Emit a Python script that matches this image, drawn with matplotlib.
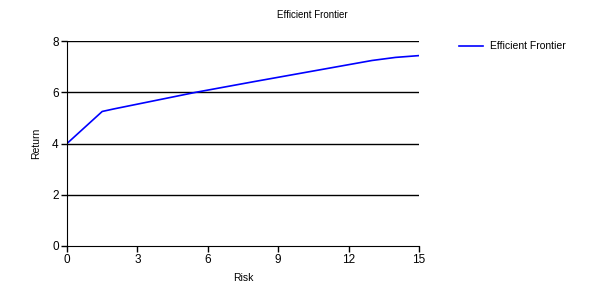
import matplotlib
matplotlib.use("Agg")
import matplotlib.pyplot as plt

plt.rcParams['font.family'] = ['Liberation Sans', 'DejaVu Sans']

# efficient frontier points
risk = [0, 1.5, 2.0, 5.5, 8.0, 13.0, 13.5, 14.0, 15.0]
ret = [4.0, 5.25, 5.35, 6.0, 6.42, 7.24, 7.30, 7.36, 7.43]
x_ticks = [0, 3, 6, 9, 12, 15]
y_ticks = [0, 2, 4, 6, 8]

fig = plt.figure(figsize=(6, 3), dpi=100)
ax = fig.add_axes([67/600, 54/300, 352/600, 205/300])

line, = ax.plot(risk, ret, color='#0000ff', lw=1.2, label='Efficient Frontier')

ax.set_xlim(0, 15)
ax.set_ylim(0, 8)
ax.set_xticks(x_ticks)
ax.set_yticks(y_ticks)
for y in y_ticks[1:]:
    ax.axhline(y, color='black', lw=1, zorder=0)

ax.spines['top'].set_visible(False)
ax.spines['right'].set_visible(False)
ax.tick_params(labelsize=8.5, length=4, width=1, pad=2)
ax.set_xlabel('Risk', fontsize=7.5, labelpad=5)
ax.set_ylabel('Return', fontsize=7.5, labelpad=8)

fig.text(312/600, 1 - 15/300, 'Efficient Frontier', fontsize=7, ha='center', va='center')
fig.legend(handles=[line], loc='upper left', bbox_to_anchor=(450/600, 1 - 32/300),
           frameon=False, fontsize=7.5, handlelength=2.3, handletextpad=0.6)

fig.savefig('out.png', dpi=100)
